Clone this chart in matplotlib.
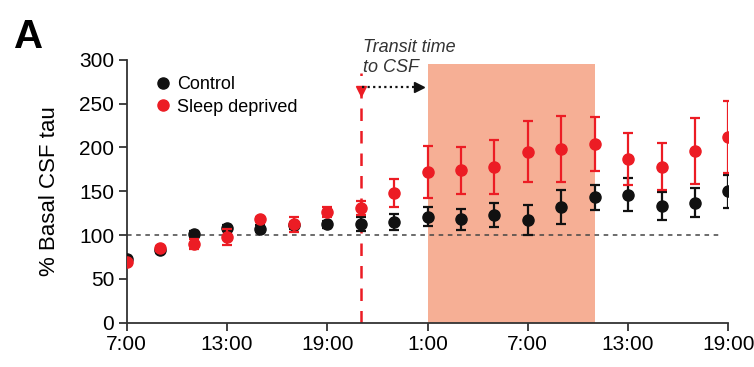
# Basal CSF tau over time: control vs sleep deprived
import numpy as np
import matplotlib.pyplot as plt

plt.rcParams['font.family'] = ['Liberation Sans', 'DejaVu Sans']

# Data (hours since midnight on day 1)
hours = [7, 9, 11, 13, 15, 17, 19, 21, 23, 25, 27, 29, 31, 33, 35, 37, 39, 41, 43]
control = [73, 83, 101, 108, 107, 111, 112, 113, 115, 121, 118, 123, 117, 132, 143, 146, 133, 137, 150]
control_err = [3, 3, 3, 3, 4, 4, 4, 8, 9, 11, 12, 14, 17, 19, 14, 19, 16, 17, 19]
sleep = [69, 85, 90, 98, 118, 112, 126, 131, 148, 172, 174, 178, 195, 198, 204, 187, 178, 196, 212]
sleep_err = [3, 3, 6, 9, 3, 9, 6, 8, 16, 30, 27, 31, 35, 38, 31, 30, 27, 38, 41]

tick_hours = [7, 13, 19, 25, 31, 37, 43]
tick_labels = ["7:00", "13:00", "19:00", "1:00", "7:00", "13:00", "19:00"]

shade_start, shade_end, shade_top = 25, 35, 295
sd_onset = 21
transit_end = 24.75
baseline = 100

red = "#EC1C24"
black = "#111111"

fig = plt.figure(figsize=(7.54, 3.67), dpi=100)
ax = fig.add_axes([0.168, 0.121, 0.798, 0.716])

# Shaded window
ax.fill_between([shade_start, shade_end], 0, shade_top, color="#F6AF95", lw=0, zorder=0)

# Baseline
ax.plot([hours[0], 42.6], [baseline, baseline], ls=(0, (3, 3)), color="#444444", lw=1.1, zorder=1)

# Sleep deprivation onset
ax.plot([sd_onset, sd_onset], [0, 285], ls=(0, (5, 4)), color=red, lw=1.8, zorder=1)
ax.plot(sd_onset, 264, marker="v", color=red, markersize=7, zorder=2)

# Transit time arrow (dotted shaft + solid head)
ax.plot([sd_onset + 0.1, transit_end - 0.3], [268.5, 268.5], ls=(0, (1, 1.5)), color=black,
        lw=1.6, zorder=3)
ax.plot(transit_end - 0.25, 268.5, marker=">", color=black, markersize=7, zorder=3)
ax.text(21.15, 286, "Transit time\nto CSF", fontsize=13, style="italic", color="#333333",
        ha="left", va="baseline", linespacing=1.2)

# Data
ax.errorbar(hours, control, yerr=control_err, fmt="o", color=black, ms=8, elinewidth=1.6,
            capsize=3.6, capthick=1.6, label="Control", zorder=4)
ax.errorbar(hours, sleep, yerr=sleep_err, fmt="o", color=red, ms=8, elinewidth=1.6,
            capsize=3.6, capthick=1.6, label="Sleep deprived", zorder=5)

ax.set_xlim(7, 43)
ax.set_ylim(0, 300)
ax.set_xticks(tick_hours)
ax.set_xticklabels(tick_labels)
ax.set_yticks([0, 50, 100, 150, 200, 250, 300])
ax.tick_params(labelsize=15, length=6, width=1.3, color="#333333", pad=3)
ax.set_ylabel("% Basal CSF tau", fontsize=16, labelpad=14)

for side in ["top", "right"]:
    ax.spines[side].set_visible(False)
for side in ["left", "bottom"]:
    ax.spines[side].set_linewidth(1.3)
    ax.spines[side].set_color("#333333")
ax.spines["left"].set_bounds(0, 300)
ax.spines["bottom"].set_bounds(7, 43)

# Legend, markers only
handles, labels = ax.get_legend_handles_labels()
handles = [plt.Line2D([], [], marker="o", ls="", color=c, ms=8) for c in [black, red]]
ax.legend(handles, labels, loc="upper left", bbox_to_anchor=(0.027, 0.965), frameon=False,
          fontsize=13, handlelength=1.4, handletextpad=0.1, labelspacing=0.3, borderaxespad=0)

fig.text(0.018, 0.87, "A", fontsize=29, fontweight="bold")

fig.savefig("out.png", dpi=100)
